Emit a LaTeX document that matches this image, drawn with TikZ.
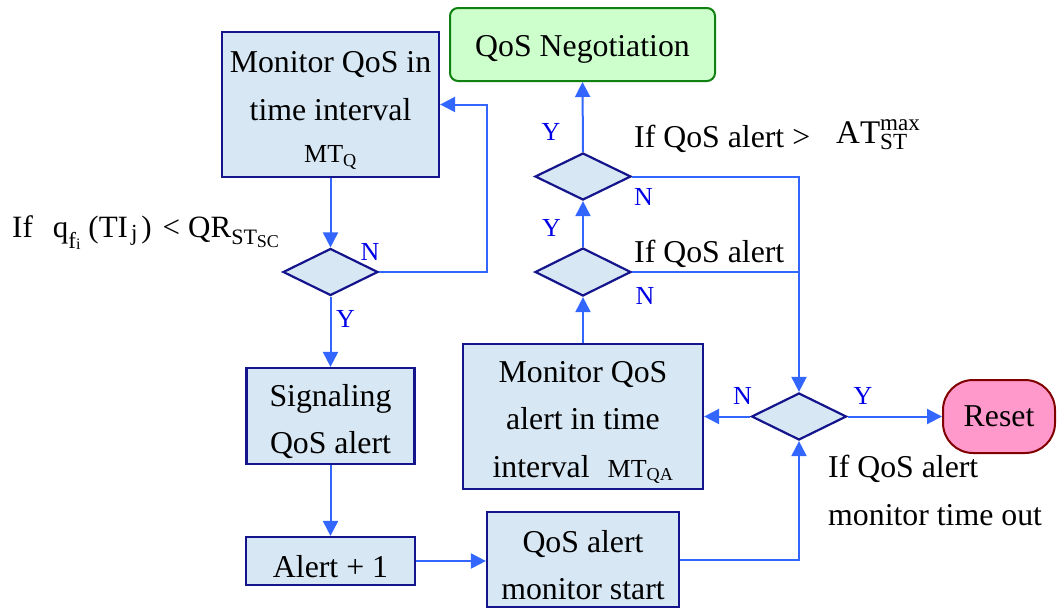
\documentclass[tikz,border=0pt]{standalone}
\usepackage{fontspec}
\setmainfont{Liberation Serif}
\setmathrm{Liberation Serif}
\usetikzlibrary{shapes.geometric,arrows.meta}
\definecolor{boxfill}{HTML}{D7E7F3}
\definecolor{boxline}{HTML}{14148C}
\definecolor{connblue}{HTML}{3366FF}
\definecolor{lblblue}{HTML}{0000E6}
\definecolor{negfill}{HTML}{CCFFCC}
\definecolor{negline}{HTML}{108010}
\definecolor{resfill}{HTML}{FF99CC}
\definecolor{resline}{HTML}{800000}
\newcommand{\fsz}[1]{\fontsize{#1}{#1}\selectfont}
\newcommand{\tallstrut}{\rule{0pt}{33pt}}
\begin{document}
\begin{tikzpicture}[x=1pt,y=-1pt,
  every node/.style={font=\fontsize{31.8}{47.5}\selectfont},
  box/.style={draw=boxline, fill=boxfill, line width=2.2pt, rectangle, inner sep=0pt, align=center},
  dec/.style={diamond, draw=boxline, fill=boxfill, line width=2.2pt, inner sep=0pt, minimum width=95pt, minimum height=47pt},
  conn/.style={draw=connblue, line width=2pt},
  arr/.style={conn, -{Triangle[length=15pt,width=15pt]}},
  yn/.style={text=lblblue, font=\fontsize{26}{30}\selectfont, inner sep=0pt},
  free/.style={inner sep=0pt, anchor=base west}
]
\useasboundingbox (0,0) rectangle (1057,608);

% boxes
\node[box, minimum width=217pt, minimum height=145pt] (mon) at (330.5,104.5)
  {\tallstrut Monitor QoS in\\time interval\\[-5pt]{\fontsize{26}{30}\selectfont MT$_{\mathrm{Q}}$}};
\node[box, minimum width=168pt, minimum height=96pt] (sig) at (330.5,416) {\tallstrut Signaling\\QoS alert};
\node[box, minimum width=169pt, minimum height=48pt] (alert) at (330.5,561) {\tallstrut Alert + 1};
\node[box, minimum width=192pt, minimum height=95pt] (start) at (583,559.5) {\tallstrut QoS alert\\monitor start};
\node[box, minimum width=240pt, minimum height=145pt] (monqa) at (583,416.5)
  {\tallstrut Monitor QoS\\alert in time\\interval\hspace{18pt}{\fontsize{26}{30}\selectfont MT$_{\mathrm{QA}}$}};

% decisions
\node[dec] (d1) at (330.5,272) {};
\node[dec, minimum width=96pt] (d2) at (583,176.5) {};
\node[dec, minimum width=96pt, minimum height=48pt] (d3) at (583,272) {};
\node[dec] (d4) at (799,416.5) {};

% terminals
\node[draw=negline, fill=negfill, line width=2pt, rounded corners=8pt, minimum width=265pt,
  minimum height=73pt, inner sep=0pt, text height=24pt, text depth=0pt] (neg) at (582.5,44.5) {QoS Negotiation};
\node[draw=resline, fill=resfill, line width=2pt, rounded corners=30pt, minimum width=112pt,
  minimum height=73pt, inner sep=0pt] (reset) at (999,416.5) {Reset};

% connectors
\coordinate (fbx) at (487,272);
\draw[arr] (mon.south) -- (d1.north);
\draw[arr] (d1.east) -- (fbx) |- (mon.east);
\draw[arr] (d1.south) -- (sig.north);
\draw[arr] (sig.south) -- (alert.north);
\draw[arr] (alert.east) -- (alert.east -| start.west);
\draw[arr] (start.east) -| (d4.south);
\draw[arr] (d4.west) -- (monqa.east);
\draw[arr] (d4.east) -- (reset.west);
\draw[arr] (monqa.north) -- (d3.south);
\draw[arr] (d3.north) -- (d2.south);
\draw[arr] (d2.north) -- (neg.south);
\draw[arr] (d2.east) -| (d4.north);
\draw[conn] (d3.east) -- (d3.east -| d4.north);

% Y / N labels
\node[yn] (n1) at (370,252) {N};
\node[yn] (y1) at (345.5,319) {Y};
\node[yn] (y2) at (551,132) {Y};
\node[yn] (n2) at (643.5,197) {N};
\node[yn] (y3) at (551.5,228) {Y};
\node[yn] (n3) at (645,295.5) {N};
\node[yn] (n4) at (742.5,395.5) {N};
\node[yn] (y4) at (863,395.5) {Y};

% conditions
\node[free, font=\fsz{31}] (c1) at (12,237)
  {If\hspace{20pt}q\raisebox{-11pt}{\fsz{23}f\raisebox{-1pt}{\fsz{16}i}}\hspace{8pt}(TI\hspace{3pt}\raisebox{-3pt}{\fsz{23}j}\hspace{4pt})\hspace{11pt}<\hspace{8pt}QR\raisebox{-7pt}{\fsz{22}ST\raisebox{-3pt}{\fsz{18}SC}}};
\node[free] (c2) at (634,147) {If QoS alert >};
\node[free, font=\fontsize{33}{40}\selectfont] (c3) at (836,143) {$\mathrm{AT}^{\mathrm{max}}_{\mathrm{ST}}$};
\node[free] (c4) at (634,262) {If QoS alert};
\node[inner sep=0pt, anchor=north west, align=left] (c5) at (828,455.3) {If QoS alert\\monitor time out};
\end{tikzpicture}
\end{document}
